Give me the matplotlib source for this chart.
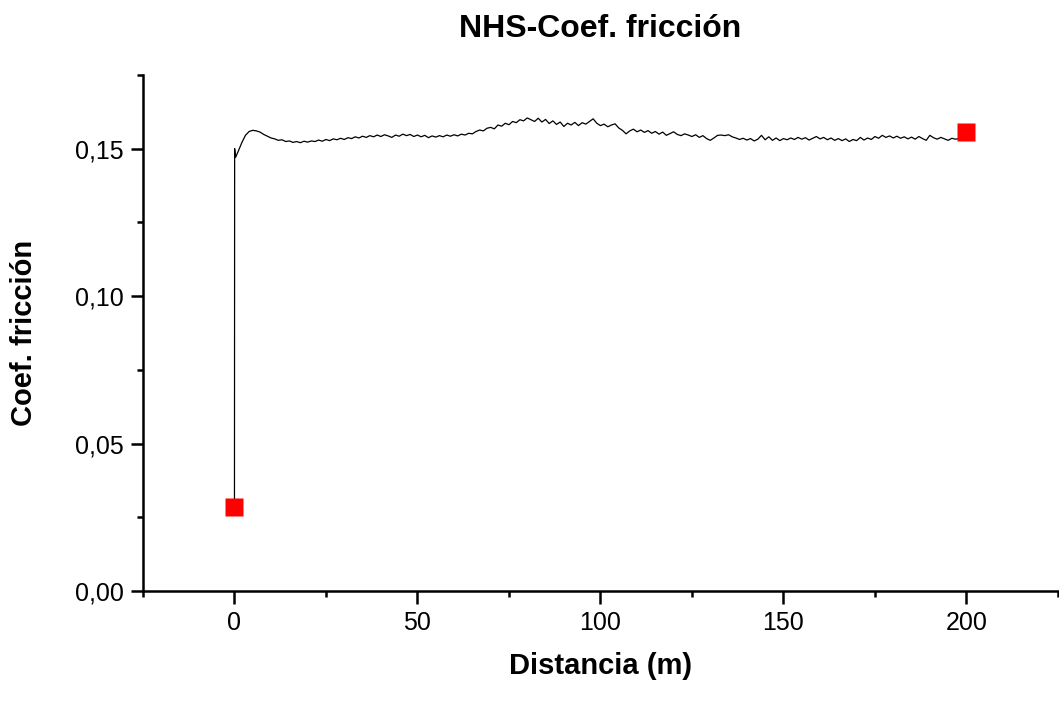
import numpy as np
import matplotlib.pyplot as plt
from matplotlib.ticker import MultipleLocator, FuncFormatter

plt.rcParams['font.family'] = ['Liberation Sans', 'DejaVu Sans']

# initial jump (run-in)
dist_start = [0.0, 0.05, 0.3]
cof_start = [0.0285, 0.1500, 0.1470]

# friction coefficient every 1 m from 1 to 200 m
cof_run = [
    0.1490, 0.1520, 0.1545, 0.1558, 0.1562, 0.1560, 0.1556, 0.1548, 0.1542, 0.1536,
    0.1533, 0.1528, 0.1530, 0.1524, 0.1526, 0.1521, 0.1524, 0.1520, 0.1525, 0.1522,
    0.1526, 0.1524, 0.1529, 0.1525, 0.1531, 0.1527, 0.1533, 0.1530, 0.1535, 0.1531,
    0.1537, 0.1534, 0.1540, 0.1536, 0.1542, 0.1538, 0.1544, 0.1540, 0.1546, 0.1541,
    0.1547, 0.1543, 0.1538, 0.1546, 0.1542, 0.1549, 0.1544, 0.1548, 0.1541, 0.1546,
    0.1540, 0.1545, 0.1537, 0.1543, 0.1539, 0.1544, 0.1540, 0.1546, 0.1542, 0.1547,
    0.1543, 0.1549, 0.1546, 0.1552, 0.1550, 0.1558, 0.1563, 0.1560, 0.1569, 0.1572,
    0.1567, 0.1580, 0.1576, 0.1586, 0.1581, 0.1592, 0.1588, 0.1598, 0.1594, 0.1604,
    0.1598, 0.1592, 0.1603, 0.1590, 0.1599, 0.1585, 0.1594, 0.1582, 0.1590, 0.1575,
    0.1586, 0.1580, 0.1589, 0.1578, 0.1588, 0.1583, 0.1592, 0.1601, 0.1586, 0.1578,
    0.1583, 0.1574, 0.1580, 0.1584, 0.1570, 0.1562, 0.1550, 0.1560, 0.1566, 0.1557,
    0.1563, 0.1555, 0.1561, 0.1552, 0.1558, 0.1549, 0.1556, 0.1545, 0.1551, 0.1557,
    0.1548, 0.1544, 0.1550, 0.1546, 0.1541, 0.1547, 0.1538, 0.1544, 0.1534, 0.1528,
    0.1536, 0.1545, 0.1546, 0.1544, 0.1547, 0.1540, 0.1536, 0.1531, 0.1535, 0.1529,
    0.1534, 0.1526, 0.1532, 0.1545, 0.1530, 0.1540, 0.1528, 0.1536, 0.1527, 0.1534,
    0.1530, 0.1536, 0.1531, 0.1538, 0.1532, 0.1537, 0.1529, 0.1535, 0.1541, 0.1533,
    0.1538, 0.1530, 0.1536, 0.1528, 0.1534, 0.1527, 0.1533, 0.1524, 0.1531, 0.1527,
    0.1538, 0.1529, 0.1536, 0.1531, 0.1541, 0.1535, 0.1545, 0.1538, 0.1543, 0.1536,
    0.1542, 0.1535, 0.1540, 0.1533, 0.1539, 0.1532, 0.1541, 0.1534, 0.1528, 0.1545,
    0.1537, 0.1532, 0.1538, 0.1533, 0.1528, 0.1535, 0.1532, 0.1534, 0.1533, 0.1535,
]
dist_run = np.arange(1, len(cof_run) + 1)

# red end points
mark_dist = [0, 200]
mark_cof = [0.0285, 0.1555]

dist = np.concatenate([dist_start, dist_run])
cof = np.concatenate([cof_start, cof_run])

fig = plt.figure(figsize=(10.59, 7.13), dpi=100)
ax = fig.add_axes([0.135, 0.171, 0.864, 0.724])

ax.plot(dist, cof, color='black', lw=0.9)
ax.plot(mark_dist, mark_cof, 's', color='#ff0000', ms=13, mec='none')

ax.set_xlim(-25, 225)
ax.set_ylim(0, 0.175)
ax.xaxis.set_major_locator(MultipleLocator(50))
ax.xaxis.set_minor_locator(MultipleLocator(25))
ax.yaxis.set_major_locator(MultipleLocator(0.05))
ax.yaxis.set_minor_locator(MultipleLocator(0.025))
ax.yaxis.set_major_formatter(FuncFormatter(lambda v, p: f'{v:.2f}'.replace('.', ',')))

for s in ['top', 'right']:
    ax.spines[s].set_visible(False)
for s in ['left', 'bottom']:
    ax.spines[s].set_linewidth(1.8)

ax.tick_params(which='major', direction='out', length=9, width=1.8, labelsize=18, pad=5)
ax.tick_params(which='minor', direction='out', length=4.5, width=1.8)

ax.set_title('NHS-Coef. fricción', fontsize=23, fontweight='bold', pad=27)
ax.set_xlabel('Distancia (m)', fontsize=21, fontweight='bold')
ax.set_ylabel('Coef. fricción', fontsize=21, fontweight='bold')
ax.xaxis.set_label_coords(0.5, -0.118)
ax.yaxis.set_label_coords(-0.115, 0.5)

plt.savefig('out.png', dpi=100)
